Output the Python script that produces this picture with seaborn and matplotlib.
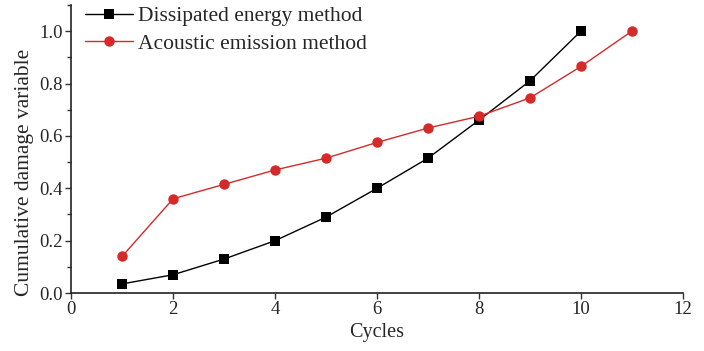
import numpy as np
import pandas as pd
import matplotlib
matplotlib.use("Agg")
import matplotlib.pyplot as plt
from matplotlib.ticker import MultipleLocator, FormatStrFormatter
import seaborn as sns

# Cumulative damage per loading cycle for the two evaluation methods
cycles_energy = [1, 2, 3, 4, 5, 6, 7, 8, 9, 10]
damage_energy = [0.035, 0.07, 0.13, 0.20, 0.29, 0.40, 0.515, 0.66, 0.81, 1.0]

cycles_ae = [1, 2, 3, 4, 5, 6, 7, 8, 9, 10, 11]
damage_ae = [0.14, 0.36, 0.415, 0.47, 0.515, 0.575, 0.63, 0.675, 0.745, 0.865, 1.0]

series_names = ["Dissipated energy method", "Acoustic emission method"]

df = pd.concat([
    pd.DataFrame({"Cycles": cycles_energy, "Damage": damage_energy, "Method": series_names[0]}),
    pd.DataFrame({"Cycles": cycles_ae, "Damage": damage_ae, "Method": series_names[1]}),
], ignore_index=True)

sns.set_style("ticks")
plt.rcParams["font.family"] = ["Liberation Serif", "DejaVu Serif"]
plt.rcParams["xtick.direction"] = "out"
plt.rcParams["ytick.direction"] = "out"

fig = plt.figure(figsize=(7.04, 3.51), dpi=100)
ax = fig.add_axes([0.101, 0.165, 0.869, 0.821])

palette = {series_names[0]: "#000000", series_names[1]: "#d42a2a"}
markers = {series_names[0]: "s", series_names[1]: "o"}

sns.lineplot(data=df, x="Cycles", y="Damage", hue="Method", style="Method",
             palette=palette, markers=markers, dashes=False, markersize=7.5,
             linewidth=1.0, markeredgewidth=0, ax=ax)

ax.set_xlim(0, 12)
ax.set_ylim(0, 1.1)
ax.xaxis.set_major_locator(MultipleLocator(2))
ax.yaxis.set_major_locator(MultipleLocator(0.2))
ax.yaxis.set_minor_locator(MultipleLocator(0.1))
ax.yaxis.set_major_formatter(FormatStrFormatter("%.1f"))
ax.tick_params(axis="both", which="major", labelsize=13.5, length=4, width=1, color="#333333", pad=2)
ax.tick_params(axis="y", which="minor", length=3, width=1, color="#333333")

for side in ["top", "right"]:
    ax.spines[side].set_visible(False)
for side in ["left", "bottom"]:
    ax.spines[side].set_linewidth(1.2)
    ax.spines[side].set_color("#222222")

ax.set_xlabel("Cycles", fontsize=14.5, labelpad=3)
ax.set_ylabel("Cumulative damage variable", fontsize=15.5)
ax.yaxis.set_label_coords(-0.06, 0.42)

leg = ax.legend(loc="upper left", frameon=False, fontsize=15.5, handlelength=2.2,
                borderaxespad=0.0, borderpad=0.0, bbox_to_anchor=(0.023, 0.995),
                labelspacing=0.35, handletextpad=0.25)

fig.savefig("out.png", dpi=100)
